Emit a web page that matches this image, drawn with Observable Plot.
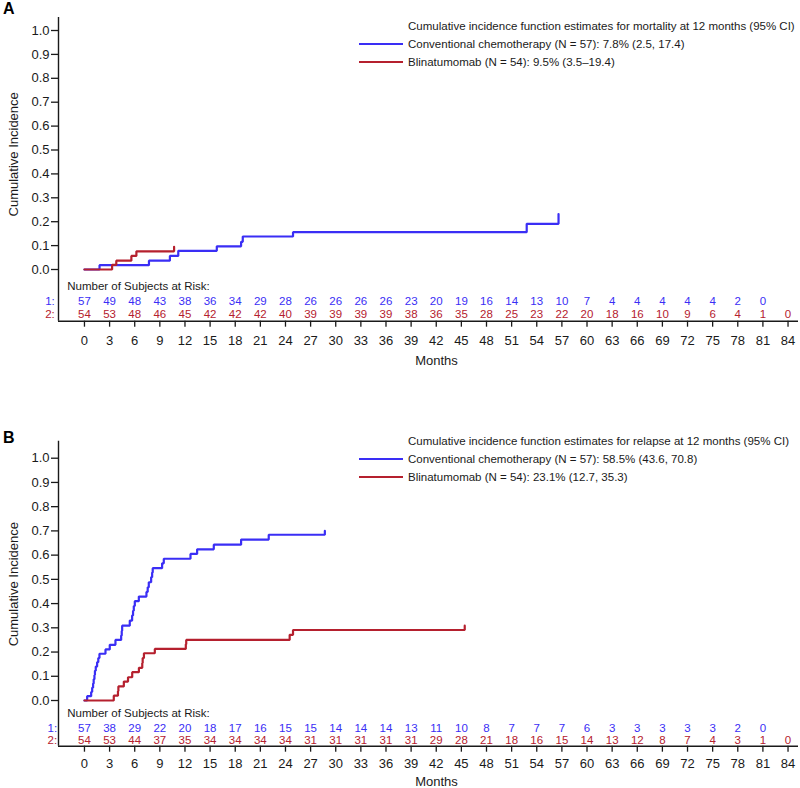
<!DOCTYPE html>
<html>
<head>
<meta charset="utf-8">
<script src="https://cdn.jsdelivr.net/npm/d3@7"></script>
<script src="https://cdn.jsdelivr.net/npm/@observablehq/plot@0.6"></script>
<style>
  body { margin: 0; background: #fff; font-family: "Liberation Sans", Arial, sans-serif; }
  #chart svg { display: block; }
</style>
</head>
<body>
<div id="chart"></div>
<script>
// Time axis ticks (months)
const monthTicks = d3.range(0, 85, 3);
const incidenceTicks = d3.range(0, 11).map(i => i / 10);

// Panel A: cumulative incidence of mortality
const mortChemoMonths = [0, 1.8, 7.7, 10.2, 11.2, 15.8, 18.7, 18.9, 24.9, 52.8, 56.6];
const mortChemoCif    = [0, 0.018, 0.037, 0.057, 0.078, 0.097, 0.116, 0.138, 0.156, 0.191, 0.232];
const mortBlinaMonths = [0, 3.3, 3.8, 5.6, 6.2, 10.7];
const mortBlinaCif    = [0, 0.019, 0.037, 0.057, 0.076, 0.095];

// Panel B: cumulative incidence of relapse
const relChemoMonths = [0, 0.32, 0.8, 0.92, 1.03, 1.1, 1.19, 1.25, 1.35, 1.51, 1.65, 1.79, 2.51, 3.02, 3.7,
  4.38, 4.45, 4.5, 5.41, 5.69, 5.8, 5.89, 6.01, 6.49, 7.4, 7.55, 7.68, 7.96, 8.08, 8.15, 9.27, 9.47,
  12.66, 13.45, 15.44, 18.7, 22.0, 28.7];
const relChemoCif = [0, 0.018, 0.035, 0.053, 0.07, 0.088, 0.105, 0.123, 0.14, 0.158, 0.175, 0.193, 0.211, 0.23, 0.25,
  0.268, 0.288, 0.309, 0.33, 0.351, 0.37, 0.39, 0.41, 0.429, 0.448, 0.467, 0.488, 0.509, 0.528, 0.546, 0.566, 0.585,
  0.605, 0.624, 0.643, 0.664, 0.684, 0.70];
const relBlinaMonths = [0, 3.5, 4.0, 4.05, 4.7, 5.2, 5.7, 6.5, 6.9, 6.95, 7.1, 8.4, 12.1, 12.15, 24.5, 24.9, 45.4];
const relBlinaCif    = [0, 0.02, 0.039, 0.058, 0.078, 0.096, 0.117, 0.135, 0.155, 0.175, 0.195, 0.213, 0.232, 0.25, 0.271, 0.291, 0.309];

// Number of subjects at risk, one value per tick from month 0
const mortRiskChemo = [57, 49, 48, 43, 38, 36, 34, 29, 28, 26, 26, 26, 26, 23, 20, 19, 16, 14, 13, 10, 7, 4, 4, 4, 4, 4, 2, 0];
const mortRiskBlina = [54, 53, 48, 46, 45, 42, 42, 42, 40, 39, 39, 39, 39, 38, 36, 35, 28, 25, 23, 22, 20, 18, 16, 10, 9, 6, 4, 1, 0];
const relRiskChemo  = [57, 38, 29, 22, 20, 18, 17, 16, 15, 15, 14, 14, 14, 13, 11, 10, 8, 7, 7, 7, 6, 3, 3, 3, 3, 3, 2, 0];
const relRiskBlina  = [54, 53, 44, 37, 35, 34, 34, 34, 34, 31, 31, 31, 31, 31, 29, 28, 21, 18, 16, 15, 14, 13, 12, 8, 7, 4, 3, 1, 0];

// Legend text
const mortLegend = ["Cumulative incidence function estimates for mortality at 12 months (95% CI)",
  "Conventional chemotherapy (N = 57): 7.8% (2.5, 17.4)",
  "Blinatumomab (N = 54): 9.5% (3.5\u201319.4)"];
const relLegend = ["Cumulative incidence function estimates for relapse at 12 months (95% CI)",
  "Conventional chemotherapy (N = 57): 58.5% (43.6, 70.8)",
  "Blinatumomab (N = 54): 23.1% (12.7, 35.3)"];

const BLUE = "#3a2ef5";
const RED = "#b5202e";
const INK = "#1a1a1a";
const FONT = "'Liberation Sans', Arial, Helvetica, sans-serif";
const xDomain = [-3.1, 85.25];

const zip = (xs, ys, kx, ky) => xs.map((v, i) => ({[kx]: v, [ky]: ys[i]}));

function panel(cfg) {
  const chemo = zip(cfg.chemoMonths, cfg.chemoCif, "t", "p");
  const blina = zip(cfg.blinaMonths, cfg.blinaCif, "t", "p");
  const riskChemo = zip(monthTicks.slice(0, cfg.riskChemo.length), cfg.riskChemo, "m", "n");
  const riskBlina = zip(monthTicks.slice(0, cfg.riskBlina.length), cfg.riskBlina, "m", "n");
  const L = cfg.layout;
  const tableText = {lineAnchor: "middle", fontSize: 11.5};

  const svg = Plot.plot({
    width: 800,
    height: 394,
    marginLeft: 58,
    marginRight: 2,
    marginTop: L.marginTop,
    marginBottom: L.marginBottom,
    x: {domain: xDomain},
    y: {domain: L.yDomain},
    style: {fontFamily: FONT, fontSize: "13px", color: INK, background: "#fff", overflow: "visible"},
    marks: [
      Plot.axisY({ticks: incidenceTicks, tickFormat: ".1f", tickSize: 7, tickPadding: 2, label: null, strokeWidth: 1.3}),
      Plot.axisX({ticks: monthTicks, tickFormat: "d", tickSize: 6, tickPadding: L.xPad, label: null, strokeWidth: 1.3}),
      Plot.ruleX([xDomain[0]], {stroke: INK, strokeWidth: 1.4}),
      Plot.ruleY([L.yDomain[0]], {stroke: INK, strokeWidth: 1.4}),
      Plot.line(chemo, {x: "t", y: "p", curve: "step-after", stroke: BLUE, strokeWidth: 2.2, strokeLinejoin: "miter"}),
      Plot.line(blina, {x: "t", y: "p", curve: "step-after", stroke: RED, strokeWidth: 2.2, strokeLinejoin: "miter"}),
      Plot.text(["Number of Subjects at Risk:"], {...tableText, frameAnchor: "bottom-left", textAnchor: "start", dx: 8.7, dy: L.header, fill: INK}),
      Plot.text(["1:"], {...tableText, frameAnchor: "bottom-left", textAnchor: "end", dx: L.rowLabelDx, dy: L.row1, fill: BLUE}),
      Plot.text(["2:"], {...tableText, frameAnchor: "bottom-left", textAnchor: "end", dx: L.rowLabelDx, dy: L.row2, fill: RED}),
      Plot.text(riskChemo, {...tableText, x: "m", text: "n", frameAnchor: "bottom", dy: L.row1, fill: BLUE}),
      Plot.text(riskBlina, {...tableText, x: "m", text: "n", frameAnchor: "bottom", dy: L.row2, fill: RED}),
      Plot.text(["Months"], {frameAnchor: "bottom", lineAnchor: "middle", textAnchor: "middle", dx: 8, dy: L.monthsDy, fontSize: 13, fill: INK}),
      Plot.text(["Cumulative Incidence"], {frameAnchor: "left", lineAnchor: "middle", textAnchor: "middle", rotate: -90, dx: -45, dy: L.yLabelDy, fontSize: 13, fill: INK})
    ]
  });

  const s = d3.select(svg);
  // Panel letter
  s.append("text")
    .attr("x", 3).attr("y", L.letterY).attr("text-anchor", "start")
    .attr("font-family", FONT).attr("font-size", 16).attr("font-weight", "bold").attr("fill", "#000")
    .text(cfg.letter);

  // Legend
  const g = s.append("g")
    .attr("transform", `translate(0,${L.legendTop})`)
    .attr("text-anchor", "start")
    .attr("font-family", FONT).attr("font-size", 11.5).attr("fill", INK);
  g.append("text").attr("x", 408).attr("y", 0).attr("dy", "0.35em").text(cfg.legend[0]);
  [[BLUE, cfg.legend[1]], [RED, cfg.legend[2]]].forEach(([c, label], i) => {
    const y = 18 * (i + 1);
    g.append("line").attr("x1", 359).attr("x2", 403).attr("y1", y).attr("y2", y)
      .attr("stroke", c).attr("stroke-width", 2.2);
    g.append("text").attr("x", 408).attr("y", y).attr("dy", "0.35em").text(label);
  });
  return svg;
}

const chart = document.getElementById("chart");
chart.append(panel({
  letter: "A",
  legend: mortLegend,
  chemoMonths: mortChemoMonths, chemoCif: mortChemoCif,
  blinaMonths: mortBlinaMonths, blinaCif: mortBlinaCif,
  riskChemo: mortRiskChemo, riskBlina: mortRiskBlina,
  layout: {
    marginTop: 17, marginBottom: 73.3, yDomain: [-0.2163, 1.0544],
    xPad: 9, header: -34.7, row1: -19.7, row2: -6.7, rowLabelDx: -3.7,
    monthsDy: 39.3, yLabelDy: -15, letterY: 14, legendTop: 26
  }
}));
chart.append(panel({
  letter: "B",
  legend: relLegend,
  chemoMonths: relChemoMonths, chemoCif: relChemoCif,
  blinaMonths: relBlinaMonths, blinaCif: relBlinaCif,
  riskChemo: relRiskChemo, riskBlina: relRiskBlina,
  layout: {
    marginTop: 46.7, marginBottom: 42.3, yDomain: [-0.1886, 1.0702],
    xPad: 6.5, header: -32.5, row1: -18.3, row2: -5.6, rowLabelDx: -1.3,
    monthsDy: 36, yLabelDy: -9.5, letterY: 49.3, legendTop: 47
  }
}));
</script>
</body>
</html>
